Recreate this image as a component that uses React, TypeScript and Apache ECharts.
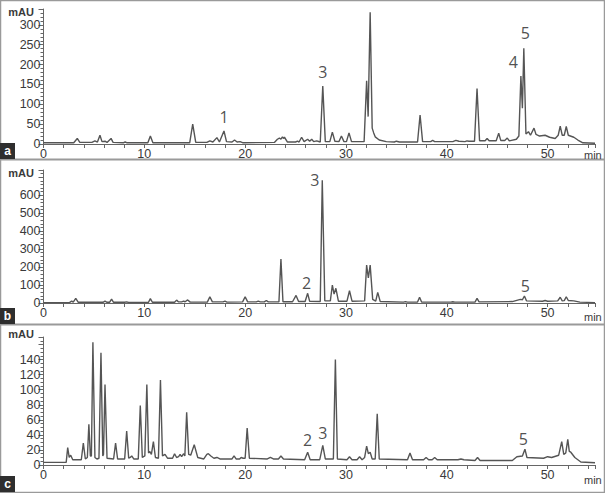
import React, { useEffect, useRef } from 'react';
import * as echarts from 'echarts';

// Chromatogram traces: [retention time (min), absorbance (mAU)]
const chromA: [number, number][] = [
  [0, 3], [3.0, 3], [3.35, 14], [3.6, 4], [4.8, 4], [5.1, 8], [5.35, 5], [5.6, 22], [5.8, 6], [6.1, 7], [6.3, 4],
  [6.7, 14], [6.9, 4], [7.9, 3], [8.1, 5], [8.3, 3], [10.35, 3], [10.6, 20], [10.85, 3], [14.5, 3], [14.8, 50],
  [15.1, 4], [16.2, 4], [16.5, 8], [16.8, 5], [17.2, 16], [17.45, 5], [17.9, 33], [18.15, 6], [18.7, 5], [18.95, 10],
  [19.2, 5], [19.5, 6], [19.8, 3], [22.9, 4], [23.2, 12], [23.4, 15], [23.55, 12], [23.7, 18], [23.8, 14], [23.9, 17],
  [24.2, 5], [25.0, 5], [25.2, 7], [25.35, 5], [25.6, 17], [25.85, 6], [26.2, 12], [26.4, 7], [26.6, 12], [26.8, 6],
  [27.1, 8], [27.45, 5], [27.7, 146], [27.95, 6], [28.4, 6], [28.65, 30], [28.9, 7], [29.3, 6], [29.55, 20], [29.8, 6],
  [30.05, 6], [30.3, 28], [30.55, 6], [31.8, 6], [32.05, 159], [32.2, 69], [32.4, 332], [32.6, 40], [32.75, 28],
  [32.9, 18], [33.3, 10], [34.0, 6], [34.8, 5], [35.0, 7], [35.3, 5], [37.1, 5], [37.35, 73], [37.6, 6], [38.4, 6],
  [38.6, 9], [38.8, 6], [40.6, 6], [40.9, 9], [41.2, 7], [41.8, 6], [42.0, 8], [42.2, 7], [42.75, 7], [43.0, 140],
  [43.25, 8], [43.8, 8], [44.0, 14], [44.2, 8], [44.9, 8], [45.15, 27], [45.35, 9], [45.75, 9], [46.0, 15], [46.2, 8],
  [46.9, 12], [47.15, 20], [47.35, 171], [47.5, 90], [47.64, 241], [47.85, 25], [48.1, 31], [48.3, 22], [48.65, 40],
  [48.85, 24], [49.2, 20], [49.75, 22], [50.2, 17], [50.75, 14], [51.05, 22], [51.25, 45], [51.45, 22], [51.65, 22],
  [51.85, 44], [52.05, 22], [52.6, 17], [53.0, 10], [53.5, 3], [54.7, 2],
];

const chromB: [number, number][] = [
  [0, 2], [2.6, 3], [2.8, 10], [2.95, 5], [3.2, 26], [3.45, 4], [5.9, 4], [6.1, 10], [6.3, 4], [6.55, 4], [6.75, 22],
  [6.95, 4], [8.05, 4], [8.25, 6], [8.45, 3], [10.4, 3], [10.6, 24], [10.8, 4], [13.0, 4], [13.2, 16], [13.4, 6],
  [13.7, 6], [13.9, 10], [14.05, 7], [14.3, 17], [14.55, 5], [16.25, 5], [16.5, 35], [16.75, 6], [17.8, 6], [18.0, 10],
  [18.2, 5], [19.75, 6], [20.0, 35], [20.25, 6], [21.1, 6], [21.3, 10], [21.5, 6], [21.9, 6], [22.1, 14], [22.3, 6],
  [23.35, 6], [23.55, 244], [23.75, 7], [24.7, 7], [25.05, 42], [25.3, 8], [25.95, 8], [26.2, 54], [26.4, 9],
  [27.45, 8], [27.65, 683], [27.9, 12], [28.45, 12], [28.65, 100], [28.82, 50], [29.0, 82], [29.25, 10], [30.1, 10],
  [30.35, 68], [30.6, 10], [31.85, 12], [32.05, 211], [32.22, 139], [32.4, 211], [32.65, 20], [32.95, 10], [33.15, 59],
  [33.4, 8], [35.7, 5], [35.9, 8], [36.1, 5], [37.1, 5], [37.3, 32], [37.5, 5], [40.4, 5], [40.6, 7], [40.8, 5],
  [42.8, 5], [43.0, 26], [43.2, 6], [46.5, 8], [47.3, 20], [47.5, 18], [47.7, 39], [47.9, 12], [49.5, 10], [49.75, 14],
  [50.0, 10], [51.0, 12], [51.25, 32], [51.45, 12], [51.65, 13], [51.85, 35], [52.05, 14], [52.6, 12], [53.2, 5],
  [54.7, 2],
];

const chromC: [number, number][] = [
  [0, 3.5], [2.25, 3.5], [2.4, 23], [2.55, 10], [2.7, 13], [2.9, 7], [3.75, 7], [3.95, 29], [4.15, 8], [4.35, 10],
  [4.5, 54], [4.65, 12], [4.75, 12], [4.9, 163], [5.1, 10], [5.3, 8], [5.5, 9], [5.7, 149], [5.88, 12], [5.95, 14],
  [6.1, 107], [6.3, 9], [6.95, 8], [7.15, 29], [7.35, 8], [8.05, 8], [8.25, 45], [8.45, 9], [8.6, 10], [8.75, 12],
  [8.95, 8], [9.4, 8], [9.6, 79], [9.8, 10], [10.05, 12], [10.25, 107], [10.42, 16], [10.55, 18], [10.7, 14],
  [10.9, 31], [11.1, 10], [11.4, 9], [11.6, 113], [11.8, 12], [12.05, 14], [12.3, 9], [12.8, 9], [13.0, 15],
  [13.2, 10], [13.4, 11], [13.55, 14], [13.7, 11], [13.9, 15], [14.02, 12], [14.2, 70], [14.4, 14], [14.6, 13],
  [14.95, 27], [15.3, 10], [15.9, 8], [16.2, 14], [16.35, 15], [16.6, 12], [16.9, 9], [17.2, 10], [17.5, 8],
  [18.7, 8], [18.9, 12], [19.1, 8], [19.45, 8], [19.6, 10], [19.8, 9], [20.0, 9], [20.2, 49], [20.42, 9], [22.2, 8],
  [22.5, 10], [22.8, 8], [23.3, 8], [23.55, 12], [23.8, 8], [25.9, 7], [26.2, 17], [26.45, 7], [27.4, 7], [27.7, 26],
  [27.95, 8], [28.75, 8], [28.95, 140], [29.15, 8], [30.1, 7], [30.35, 11], [30.6, 7], [31.1, 7], [31.35, 11],
  [31.6, 7], [31.85, 10], [32.05, 25], [32.22, 15], [32.4, 17], [32.6, 8], [32.9, 8], [33.1, 68], [33.3, 8],
  [36.1, 7], [36.35, 16], [36.6, 7], [37.7, 7], [37.95, 10], [38.2, 7], [38.55, 7], [38.8, 10], [39.05, 7],
  [41.1, 7], [41.4, 8], [41.7, 7], [42.8, 6], [43.05, 10], [43.3, 6], [46.5, 6], [46.95, 11], [47.5, 12],
  [47.75, 21], [47.95, 10], [49.6, 9], [50.0, 11], [50.4, 10], [51.1, 13], [51.4, 31], [51.6, 14], [51.8, 16],
  [52.0, 34], [52.15, 18], [52.3, 17], [52.7, 10], [53.3, 4], [54.7, 3],
];

const panelNames = ['a', 'b', 'c'];
const yMaxes = [340, 740, 170];
const yIntervals = [50, 100, 20];
const yLabelTops = [300, 600, 140];
const yMinorSplits = [5, 5, 4];
const xMax = 54.7;
const xTickStep = 2;
const xLabelStep = 10;

// Peak numbers: panel, text, time, mAU (label centre)
const peakPanels = [0, 0, 0, 0, 1, 1, 1, 2, 2, 2];
const peakTexts = ['1', '3', '4', '5', '3', '2', '5', '2', '3', '5'];
const peakTimes = [17.9, 27.7, 46.6, 47.8, 26.9, 26.1, 47.8, 26.2, 27.7, 47.6];
const peakValues = [68, 182, 207, 279, 687, 109, 94, 33, 43, 34];

const FONT = '"Liberation Sans", Arial, sans-serif';

export default function App() {
  const ref = useRef<HTMLDivElement>(null);
  useEffect(() => {
    document.body.style.margin = '0';
    if (!ref.current) return;
    const chart = echarts.init(ref.current, undefined, { renderer: 'svg' });
    const grids = [
      { left: 43.5, width: 551.5, top: 9, height: 135 },
      { left: 43.5, width: 551.5, top: 170, height: 133 },
      { left: 43.5, width: 551.5, top: 337, height: 128 },
    ];
    const traces = [chromA, chromB, chromC];
    const axisColor = '#666';
    const xAxes = grids.map((_, i) => ({
      type: 'value', gridIndex: i, min: 0, max: xMax, interval: xTickStep,
      axisLine: { show: true, onZero: false, lineStyle: { color: axisColor, width: 1 } },
      axisTick: { show: true, length: 4, lineStyle: { color: axisColor } },
      splitLine: { show: false },
      axisLabel: {
        color: '#3a3a3a', fontSize: 12.5, fontFamily: FONT, margin: 3,
        formatter: (v: number) => (Math.abs(v % xLabelStep) < 1e-6 ? String(v) : ''),
      },
    }));
    const yAxes = grids.map((_, i) => ({
      type: 'value', gridIndex: i, min: 0, max: yMaxes[i], interval: yIntervals[i],
      axisLine: { show: true, lineStyle: { color: axisColor, width: 1 } },
      axisTick: { show: true, length: 5, lineStyle: { color: axisColor } },
      minorTick: { show: true, splitNumber: yMinorSplits[i], length: 3, lineStyle: { color: axisColor } },
      splitLine: { show: false },
      axisLabel: {
        color: '#3a3a3a', fontSize: 12.5, fontFamily: FONT, margin: 3,
        formatter: (v: number) => (v <= yLabelTops[i] && Math.abs(v % yIntervals[i]) < 1e-6 ? String(v) : ''),
      },
    }));
    const lineSeries = traces.map((d, i) => ({
      type: 'line', xAxisIndex: i, yAxisIndex: i, data: d, showSymbol: false, symbol: 'none',
      lineStyle: { color: '#555', width: 1.4 }, silent: true,
    }));
    const labelSeries = grids.map((_, i) => ({
      type: 'scatter', xAxisIndex: i, yAxisIndex: i, symbolSize: 1,
      itemStyle: { color: 'rgba(0,0,0,0)' },
      data: peakTexts
        .map((t, k) => ({ value: [peakTimes[k], peakValues[k]], name: t, panel: peakPanels[k] }))
        .filter((p) => p.panel === i)
        .map((p) => ({ value: p.value, name: p.name })),
      label: {
        show: true, position: 'inside', formatter: (p: any) => p.name,
        color: '#222', fontSize: 16, fontFamily: '"Open Sans", sans-serif',
      },
      silent: true,
    }));
    const mauY = [12, 173, 334];
    const minY = [155, 317, 480];
    const boxY = [143, 308, 476];
    const graphic: any[] = [
      { type: 'rect', shape: { x: 0.5, y: 0.5, width: 604, height: 492 }, style: { fill: 'none', stroke: '#9a9a9a', lineWidth: 1.5 } },
      { type: 'line', shape: { x1: 0, y1: 159.5, x2: 605, y2: 159.5 }, style: { stroke: '#9a9a9a', lineWidth: 2 } },
      { type: 'line', shape: { x1: 0, y1: 324.5, x2: 605, y2: 324.5 }, style: { stroke: '#9a9a9a', lineWidth: 2 } },
    ];
    panelNames.forEach((n, i) => {
      graphic.push({ type: 'text', x: 34, y: mauY[i], style: { text: 'mAU', fill: '#3a3a3a', font: `bold 11px ${FONT}`, align: 'right', verticalAlign: 'middle' } });
      graphic.push({ type: 'text', x: 584, y: minY[i], style: { text: 'min', fill: '#3a3a3a', font: `11px ${FONT}`, align: 'left', verticalAlign: 'middle' } });
      graphic.push({ type: 'rect', shape: { x: 0, y: boxY[i], width: 15, height: 16 }, style: { fill: '#2e2e2e' } });
      graphic.push({ type: 'text', x: 7.5, y: boxY[i] + 8, style: { text: n, fill: '#fff', font: `bold 12px ${FONT}`, align: 'center', verticalAlign: 'middle' } });
    });
    chart.setOption({
      animation: false,
      backgroundColor: '#fff',
      grid: grids,
      xAxis: xAxes,
      yAxis: yAxes,
      series: [...lineSeries, ...labelSeries],
      graphic,
    } as any);
    return () => chart.dispose();
  }, []);
  return <div ref={ref} style={{ width: 605, height: 493 }} />;
}
